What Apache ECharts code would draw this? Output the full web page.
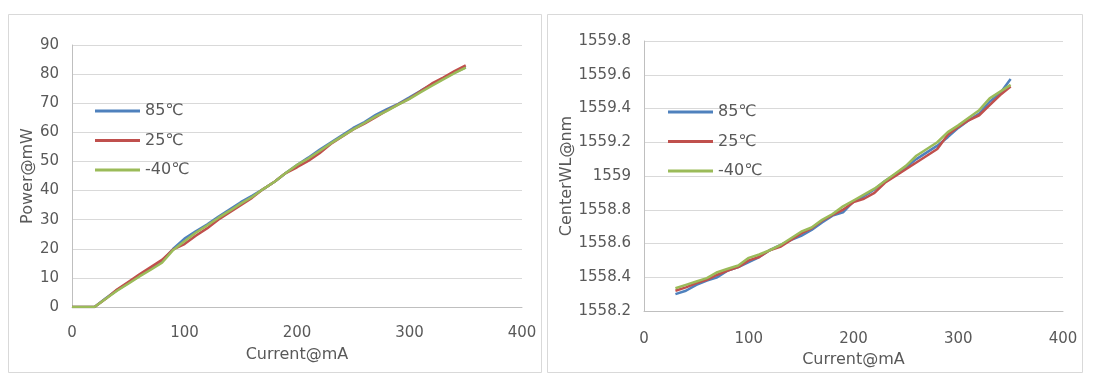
<!DOCTYPE html>
<html>
<head>
<meta charset="utf-8">
<script src="https://cdn.jsdelivr.net/npm/echarts@6/dist/echarts.min.js"></script>
<style>html,body{margin:0;padding:0;background:#fff}#c{width:1093px;height:385px}</style>
</head>
<body>
<div id="c"></div>
<script>
// ---- data ----
const seriesNames = ['85℃', '25℃', '-40℃'];
const currentP = [0,10,20,30,40,50,60,70,80,90,100,110,120,130,140,150,160,170,180,190,200,210,220,230,240,250,260,270,280,290,300,310,320,330,340,350];
const power85 = [0,0,0,3,5.8,8.3,10.8,13.2,15.8,20,23.5,26,28.3,31,33.5,36,38.2,40.5,43,46,48.8,51.3,54,56.5,59,61.5,63.5,66,68,69.8,72,74.3,76.5,78.5,80.5,82.3];
const power25 = [0,0,0,2.8,6,8.6,11.2,13.7,16.2,19.8,21.6,24.5,27,30,32.5,35,37.5,40.5,43,46,48,50.2,52.8,56,58.5,61,63,65.2,67.5,69.6,71.6,74.2,76.8,78.8,81,83];
const powerM40 = [0,0,0,2.8,5.6,8,10.5,12.8,15.2,19.6,22.6,25.5,28,30.6,33,35.5,37.8,40.5,43,46,48.8,51,53.6,56.2,58.6,61,63.2,65.5,67.4,69.5,71.5,73.8,76,78.2,80.3,82.2];
const currentWL = [30,40,50,60,70,80,90,100,110,120,130,140,150,160,170,180,190,200,210,220,230,240,250,260,270,280,290,300,310,320,330,340,350];
const wl85 = [1558.30,1558.32,1558.355,1558.38,1558.40,1558.44,1558.46,1558.49,1558.52,1558.56,1558.59,1558.62,1558.645,1558.68,1558.725,1558.765,1558.785,1558.85,1558.88,1558.92,1558.97,1559.01,1559.05,1559.10,1559.14,1559.18,1559.23,1559.285,1559.33,1559.37,1559.44,1559.49,1559.575];
const wl25 = [1558.32,1558.34,1558.365,1558.385,1558.415,1558.44,1558.46,1558.50,1558.52,1558.56,1558.58,1558.62,1558.66,1558.69,1558.735,1558.77,1558.80,1558.845,1558.865,1558.90,1558.96,1559.00,1559.04,1559.08,1559.12,1559.16,1559.245,1559.29,1559.33,1559.36,1559.42,1559.48,1559.53];
const wlM40 = [1558.335,1558.355,1558.375,1558.395,1558.43,1558.45,1558.47,1558.515,1558.535,1558.56,1558.59,1558.63,1558.67,1558.695,1558.74,1558.775,1558.82,1558.855,1558.89,1558.925,1558.97,1559.015,1559.06,1559.12,1559.16,1559.20,1559.26,1559.30,1559.345,1559.39,1559.46,1559.50,1559.54];
const colors = ['#4F81BD', '#C0504D', '#9BBB59'];

// ---- chart ----
const FONT = 'DejaVu Sans';
const TXT = '#595959';
const pair = (xs, ys) => xs.map((x, i) => [x, ys[i]]);
const fmt = v => String(parseFloat(Number(v).toFixed(4)));

function xAxisCfg(gridIndex, gap, margin) {
  return {
    gridIndex, type: 'value', min: 0, max: 400, interval: 100,
    name: 'Current@mA', nameLocation: 'middle', nameGap: gap,
    nameTextStyle: { color: TXT, fontFamily: FONT, fontSize: 16 },
    axisLine: { show: true, onZero: false, lineStyle: { color: '#BFBFBF', width: 1 } },
    axisTick: { show: false },
    splitLine: { show: false },
    axisLabel: { color: TXT, fontFamily: FONT, fontSize: 15, margin, formatter: fmt }
  };
}
function yAxisCfg(gridIndex, name, min, max, interval, gap) {
  return {
    gridIndex, type: 'value', min, max, interval,
    name, nameLocation: 'middle', nameGap: gap,
    nameTextStyle: { color: TXT, fontFamily: FONT, fontSize: 16 },
    axisLine: { show: true, lineStyle: { color: '#BFBFBF', width: 1 } },
    axisTick: { show: false },
    splitLine: { show: true, lineStyle: { color: '#D9D9D9', width: 1 } },
    axisLabel: { color: TXT, fontFamily: FONT, fontSize: 15, margin: 13, formatter: fmt }
  };
}
function lineSeries(i, xi, yi, data) {
  return {
    type: 'line', name: seriesNames[i], xAxisIndex: xi, yAxisIndex: yi,
    data, showSymbol: false, symbol: 'none', smooth: false,
    lineStyle: { color: colors[i], width: 2.5 }, itemStyle: { color: colors[i] },
    z: 2 + i, animation: false
  };
}
function legendCfg(left, top) {
  return {
    orient: 'vertical', left, top, padding: 0, icon: 'rect', itemWidth: 45, itemHeight: 3,
    itemGap: 13.5, selectedMode: false,
    textStyle: { color: TXT, fontFamily: FONT, fontSize: 16, lineHeight: 16 },
    data: seriesNames
  };
}

const chart = echarts.init(document.getElementById('c'), null, { renderer: 'canvas' });
chart.setOption({
  backgroundColor: '#ffffff',
  animation: false,
  color: colors,
  graphic: [
    { type: 'rect', shape: { x: 8.5, y: 14.5, width: 533, height: 358 }, style: { fill: null, stroke: '#D9D9D9', lineWidth: 1 }, silent: true },
    { type: 'rect', shape: { x: 547.5, y: 14.5, width: 535, height: 358 }, style: { fill: null, stroke: '#D9D9D9', lineWidth: 1 }, silent: true }
  ],
  grid: [
    { left: 72, top: 45, width: 450, height: 262 },
    { left: 644, top: 41, width: 419, height: 270 }
  ],
  xAxis: [xAxisCfg(0, 40, 19), xAxisCfg(1, 36, 21)],
  yAxis: [
    yAxisCfg(0, 'Power@mW', 0, 90, 10, 34),
    yAxisCfg(1, 'CenterWL@nm', 1558.2, 1559.8, 0.2, 65)
  ],
  legend: [legendCfg(95, 103), legendCfg(668, 104)],
  series: [
    lineSeries(0, 0, 0, pair(currentP, power85)),
    lineSeries(1, 0, 0, pair(currentP, power25)),
    lineSeries(2, 0, 0, pair(currentP, powerM40)),
    lineSeries(0, 1, 1, pair(currentWL, wl85)),
    lineSeries(1, 1, 1, pair(currentWL, wl25)),
    lineSeries(2, 1, 1, pair(currentWL, wlM40))
  ]
});
</script>
</body>
</html>
